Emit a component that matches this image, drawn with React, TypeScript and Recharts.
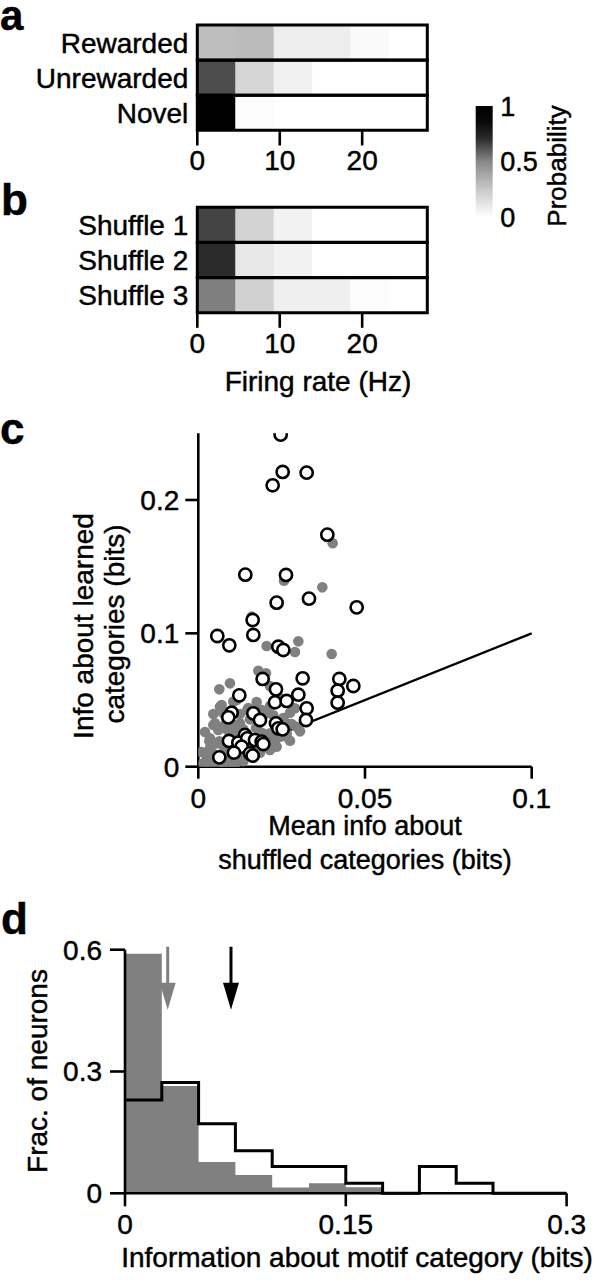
import React from 'react';
import {
  BarChart, Bar, XAxis, YAxis, Cell,
  ScatterChart, Scatter, ReferenceLine, ComposedChart, Area, Line,
} from 'recharts';

const FONT = '"Liberation Sans", Arial, Helvetica, sans-serif';

// ---------- Panels a & b : firing-rate distributions ----------
const rateBinEdges = [0, 4.65, 9.3, 13.95, 18.6, 23.25, 27.9];
const rateTicks = [0, 10, 20];
const learnedCategories = ['Rewarded', 'Unrewarded', 'Novel'];
const learnedProbabilities = [
  [0.29, 0.3, 0.08, 0.08, 0.025, 0],
  [0.63, 0.19, 0.07, 0, 0, 0],
  [1.0, 0.015, 0, 0, 0, 0],
];
const shuffledCategories = ['Shuffle 1', 'Shuffle 2', 'Shuffle 3'];
const shuffledProbabilities = [
  [0.65, 0.2, 0.06, 0, 0, 0],
  [0.71, 0.11, 0.06, 0, 0, 0],
  [0.52, 0.21, 0.075, 0.075, 0.015, 0],
];
const colorbarTicks = [0, 0.5, 1];
const colormapStops = [0, 0.25, 0.5, 0.7, 0.85, 1];
const colormapGrays = [255, 200, 136, 45, 10, 0];

// ---------- Panel c : info learned vs shuffled ----------
const learnedInfoOpen: [number, number][] = [
  [0.0247, 0.249], [0.0253, 0.221], [0.0325, 0.2205], [0.0223, 0.211], [0.0387, 0.174],
  [0.0141, 0.144], [0.0263, 0.1438], [0.0332, 0.126], [0.0235, 0.123], [0.0475, 0.1195],
  [0.0057, 0.098], [0.0093, 0.091], [0.0163, 0.11], [0.0165, 0.0988], [0.024, 0.09],
  [0.0255, 0.0875], [0.0193, 0.0658], [0.0313, 0.0663], [0.0423, 0.0658], [0.0465, 0.0605],
  [0.0233, 0.058], [0.03, 0.054], [0.0418, 0.057], [0.0123, 0.0535], [0.023, 0.0483],
  [0.0265, 0.0493], [0.0418, 0.048], [0.0325, 0.0438], [0.01, 0.0405], [0.009, 0.037],
  [0.0165, 0.04], [0.0185, 0.035], [0.0233, 0.0325], [0.0323, 0.035], [0.024, 0.0288],
  [0.0253, 0.028], [0.014, 0.0238], [0.0092, 0.0193], [0.012, 0.018], [0.0147, 0.0213],
  [0.017, 0.02], [0.019, 0.0188], [0.0195, 0.017], [0.013, 0.015], [0.0107, 0.0105],
  [0.0155, 0.01], [0.0163, 0.0083], [0.0063, 0.007],
];
const shuffledInfoGray: [number, number][] = [
  [0.0403, 0.1675], [0.0257, 0.1395], [0.0372, 0.1345], [0.016, 0.1125], [0.0205, 0.0905],
  [0.03, 0.094], [0.029, 0.086], [0.04, 0.0845], [0.018, 0.072], [0.0203, 0.07],
  [0.0063, 0.058], [0.0115, 0.05], [0.0065, 0.045], [0.0147, 0.0425], [0.019, 0.0425],
  [0.0215, 0.0455], [0.029, 0.0438], [0.0045, 0.0313], [0.006, 0.0275], [0.0085, 0.028],
  [0.011, 0.031], [0.0135, 0.028], [0.0185, 0.026], [0.0215, 0.025], [0.0295, 0.03],
  [0.0265, 0.0225], [0.0033, 0.019], [0.0063, 0.019], [0.0035, 0.014], [0.002, 0.01],
  [0.004, 0.0075], [0.006, 0.0025], [0.008, 0.0015], [0.011, 0.001], [0.013, 0.005],
  [0.009, 0.0075], [0.0015, 0.0025], [0.023, 0.019], [0.0245, 0.0225], [0.002, 0.026],
  [0.001, 0.011], [0.015, 0.012], [0.019, 0.015], [0.007, 0.0463], [0.0105, 0.0488],
  [0.0075, 0.04], [0.005, 0.0325], [0.007, 0.03], [0.0035, 0.0213], [0.0055, 0.0175],
  [0.004, 0.0113], [0.0035, 0.0013], [0.0075, 0.0025], [0.0105, 0.0015], [0.0135, 0.004],
  [0.0085, 0.011], [0.0125, 0.0325], [0.0173, 0.029], [0.0193, 0.025], [0.0178, 0.015],
  [0.021, 0.0175], [0.0243, 0.0225], [0.0265, 0.0325], [0.0265, 0.025], [0.032, 0.035],
  [0.0205, 0.04], [0.015, 0.044], [0.0123, 0.0535], [0.0095, 0.037], [0.028, 0.032],
  [0.0095, 0.0235], [0.0115, 0.0205], [0.0075, 0.0155], [0.0125, 0.0085], [0.0165, 0.0065],
  [0.0185, 0.0105], [0.0215, 0.0125], [0.0235, 0.015], [0.0275, 0.0195], [0.0305, 0.0265],
  [0.0025, 0.0055], [0.0055, 0.0085], [0.0145, 0.0175], [0.0105, 0.0265], [0.0155, 0.0355],
  [0.0225, 0.0385], [0.0255, 0.0365], [0.0125, 0.0395], [0.0085, 0.0345], [0.0045, 0.0395],
  [0.0175, 0.0485], [0.0245, 0.0515], [0.0215, 0.0605], [0.0095, 0.0625], [0.0275, 0.0405],
];
const identityLine = [0, 0.1];
const scatterXTicks = [0, 0.05, 0.1];
const scatterYTicks = [0, 0.1, 0.2];

// ---------- Panel d : histogram of information ----------
const infoBinEdges = [0, 0.025, 0.05, 0.075, 0.1, 0.125, 0.15, 0.175, 0.2, 0.225, 0.25, 0.275, 0.3];
const shuffledFraction = [0.59, 0.264, 0.077, 0.045, 0.014, 0.025, 0.015, 0, 0, 0, 0, 0, 0];
const learnedFraction = [0.23, 0.273, 0.171, 0.105, 0.066, 0.066, 0.025, 0, 0.066, 0.025, 0, 0, 0];
const meanInfo = [
  { x: 0.029, color: '#808080' },
  { x: 0.072, color: '#000000' },
];
const histXTicks = [0, 0.15, 0.3];
const histYTicks = [0, 0.3, 0.6];

// ---------- helpers ----------
function probColor(p: number): string {
  let g = colormapGrays[colormapGrays.length - 1];
  for (let i = 0; i < colormapStops.length - 1; i++) {
    if (p <= colormapStops[i + 1]) {
      const t = (p - colormapStops[i]) / (colormapStops[i + 1] - colormapStops[i]);
      g = colormapGrays[i] + t * (colormapGrays[i + 1] - colormapGrays[i]);
      break;
    }
  }
  const v = Math.round(Math.max(0, Math.min(255, g)));
  return `rgb(${v},${v},${v})`;
}

const AX = { stroke: '#000', strokeWidth: 2.6 };
const TXT_STROKE = 0.45;
const tickText = (size: number) => ({
  fill: '#000', fontSize: size, fontFamily: FONT, stroke: '#000', strokeWidth: TXT_STROKE,
});

const HM_W = 440;
const HM_RIGHT = 12.7;
const HM_LEFT_AXIS = 197.3;
const HM_PLOT_H = 105.5;
const HM_XAXIS_H = 50;

function Heatmap({ rows, probs, marginTop, height }: { rows: string[]; probs: number[][]; marginTop: number; height: number }) {
  const nBins = rateBinEdges.length - 1;
  const xMax = rateBinEdges[rateBinEdges.length - 1];
  const data = rows.map((name) => {
    const o: any = { name, total: xMax };
    for (let i = 0; i < nBins; i++) o['b' + i] = rateBinEdges[i + 1] - rateBinEdges[i];
    return o;
  });
  const margin = { top: marginTop, right: HM_RIGHT, bottom: height - marginTop - HM_PLOT_H - HM_XAXIS_H, left: 0 };
  return (
    <div style={{ position: 'relative', width: HM_W, height }}>
      <div style={{ position: 'absolute', left: 0, top: 0 }}>
        <BarChart width={HM_W} height={height} data={data} layout="vertical" barCategoryGap={0} barGap={0} margin={margin}>
          <XAxis
            type="number"
            domain={[0, xMax]}
            ticks={rateTicks}
            interval={0}
            axisLine={false}
            tickLine={AX}
            tickSize={15}
            tickMargin={5}
            height={HM_XAXIS_H}
            tick={tickText(28)}
            allowDataOverflow
          />
          <YAxis
            type="category"
            dataKey="name"
            interval={0}
            width={HM_LEFT_AXIS}
            axisLine={false}
            tickLine={false}
            tickSize={0}
            tickMargin={9}
            tick={tickText(28)}
          />
          {Array.from({ length: nBins }, (_, i) => (
            <Bar key={i} dataKey={'b' + i} stackId="h" isAnimationActive={false}>
              {rows.map((r, ri) => (
                <Cell key={r} fill={probColor(probs[ri][i])} stroke={probColor(probs[ri][i])} strokeWidth={0.6} />
              ))}
            </Bar>
          ))}
        </BarChart>
      </div>
      <div style={{ position: 'absolute', left: 0, top: 0 }}>
        <BarChart width={HM_W} height={height} data={data} layout="vertical" barCategoryGap={0} barGap={0} margin={margin}>
          <XAxis type="number" domain={[0, xMax]} axisLine={false} tickLine={false} tick={false} height={HM_XAXIS_H} />
          <YAxis type="category" dataKey="name" width={HM_LEFT_AXIS} axisLine={false} tickLine={false} tick={false} />
          <Bar dataKey="total" fill="none" stroke="#000" strokeWidth={3} isAnimationActive={false} />
        </BarChart>
      </div>
    </div>
  );
}

function Colorbar() {
  const stops = Array.from({ length: 21 }, (_, k) => k / 20);
  return (
    <BarChart
      width={110}
      height={160}
      data={[{ name: 'p', range: [colorbarTicks[0], colorbarTicks[colorbarTicks.length - 1]] }]}
      barCategoryGap={0}
      margin={{ top: 26, right: 110 - 15.7 - 16.6 - 50, bottom: 160 - 26 - 111, left: 15.7 }}
    >
      <defs>
        <linearGradient id="cbGrad" x1="0" y1="1" x2="0" y2="0">
          {stops.map((s) => (
            <stop key={s} offset={s} stopColor={probColor(s)} />
          ))}
        </linearGradient>
      </defs>
      <XAxis dataKey="name" hide />
      <YAxis
        orientation="right"
        type="number"
        domain={[0, 1]}
        ticks={colorbarTicks}
        interval={0}
        width={50}
        axisLine={false}
        tickLine={false}
        tickSize={0}
        tickMargin={8}
        tick={tickText(27)}
      />
      <Bar dataKey="range" fill="url(#cbGrad)" isAnimationActive={false} />
    </BarChart>
  );
}

const openShape = (p: any) => (
  <circle cx={p.cx} cy={p.cy} r={6.1} fill="#fff" stroke="#000" strokeWidth={2.6} />
);
const grayShape = (p: any) => <circle cx={p.cx} cy={p.cy} r={5.3} fill="#808080" />;

function ScatterPanel() {
  const openData = learnedInfoOpen.map(([x, y]) => ({ x, y }));
  const grayData = shuffledInfoGray.map(([x, y]) => ({ x, y }));
  return (
    <ScatterChart width={560} height={440} margin={{ top: 33.3, right: 28.3, bottom: 33.3, left: 0 }}>
      <XAxis
        type="number"
        dataKey="x"
        domain={[0, 0.1]}
        ticks={scatterXTicks}
        interval={0}
        axisLine={AX}
        tickLine={AX}
        tickSize={12}
        tickMargin={9}
        height={40}
        tick={tickText(28)}
        allowDataOverflow
      />
      <YAxis
        type="number"
        dataKey="y"
        domain={[0, 0.25]}
        ticks={scatterYTicks}
        interval={0}
        axisLine={AX}
        tickLine={AX}
        tickSize={13}
        tickMargin={6}
        width={198.3}
        tick={tickText(28)}
        allowDataOverflow
      />
      <Scatter data={grayData} shape={grayShape} isAnimationActive={false} />
      <ReferenceLine
        segment={[
          { x: identityLine[0], y: identityLine[0] },
          { x: identityLine[1], y: identityLine[1] },
        ]}
        stroke="#000"
        strokeWidth={2.4}
      />
      <Scatter data={openData} shape={openShape} isAnimationActive={false} />
    </ScatterChart>
  );
}

const arrowShape = (p: any) => {
  const c = p.payload.color;
  const len = 63;
  const headH = 27;
  const headW = 16;
  return (
    <g>
      <line x1={p.cx} y1={p.cy - len} x2={p.cx} y2={p.cy - headH + 2} stroke={c} strokeWidth={3} />
      <polygon
        points={`${p.cx - headW / 2},${p.cy - headH} ${p.cx + headW / 2},${p.cy - headH} ${p.cx},${p.cy}`}
        fill={c}
      />
    </g>
  );
};

function HistPanel() {
  const data = infoBinEdges.map((x, i) => ({ x, shuffled: shuffledFraction[i], learned: learnedFraction[i] }));
  const arrows = meanInfo.map((m) => ({ x: m.x, y: 0.452, color: m.color }));
  return (
    <ComposedChart width={595} height={380} data={data} margin={{ top: 49.7, right: 28.4, bottom: 41.7, left: 0 }}>
      <XAxis
        type="number"
        dataKey="x"
        domain={[0, 0.3]}
        ticks={histXTicks}
        interval={0}
        axisLine={AX}
        tickLine={AX}
        tickSize={13}
        tickMargin={8}
        height={45}
        tick={tickText(28)}
        allowDataOverflow
      />
      <YAxis
        type="number"
        domain={[0, 0.6]}
        ticks={histYTicks}
        interval={0}
        axisLine={AX}
        tickLine={AX}
        tickSize={15}
        tickMargin={8}
        width={125}
        tick={tickText(28)}
      />
      <Area
        type="stepAfter"
        dataKey="shuffled"
        stroke="none"
        fill="#808080"
        fillOpacity={1}
        isAnimationActive={false}
        dot={false}
        activeDot={false}
      />
      <Line
        type="stepAfter"
        dataKey="learned"
        stroke="#000"
        strokeWidth={3}
        dot={false}
        activeDot={false}
        isAnimationActive={false}
      />
      <Scatter data={arrows} dataKey="y" shape={arrowShape} isAnimationActive={false} />
    </ComposedChart>
  );
}

export default function App() {
  const txt = { fontFamily: FONT, fill: '#000', stroke: '#000', strokeWidth: TXT_STROKE } as const;
  const rot = (x: number, y: number) => `rotate(-90 ${x} ${y})`;
  return (
    <div style={{ position: 'absolute', left: 0, top: 0, width: 595, height: 1280, background: '#fff', overflow: 'hidden' }}>
      <div style={{ position: 'absolute', left: 0, top: 0 }}>
        <Heatmap rows={learnedCategories} probs={learnedProbabilities} marginTop={25} height={180} />
      </div>
      <div style={{ position: 'absolute', left: 0, top: 180 }}>
        <Heatmap rows={shuffledCategories} probs={shuffledProbabilities} marginTop={27.3} height={200} />
      </div>
      <div style={{ position: 'absolute', left: 460, top: 80 }}>
        <Colorbar />
      </div>
      <div style={{ position: 'absolute', left: 0, top: 400 }}>
        <ScatterPanel />
      </div>
      <div style={{ position: 'absolute', left: 0, top: 900 }}>
        <HistPanel />
      </div>
      <svg width={595} height={1280} style={{ position: 'absolute', left: 0, top: 0, pointerEvents: 'none' }}>
        <text x={0} y={30} fontSize={42} fontWeight="bold" {...txt}>a</text>
        <text x={1} y={215} fontSize={44} fontWeight="bold" {...txt}>b</text>
        <text x={0} y={444} fontSize={44} fontWeight="bold" {...txt}>c</text>
        <text x={1} y={934} fontSize={44} fontWeight="bold" {...txt}>d</text>
        <text x={318} y={391} fontSize={28} textAnchor="middle" {...txt}>Firing rate (Hz)</text>
        <text x={566} y={166} fontSize={26} textAnchor="middle" transform={rot(566, 166)} {...txt}>Probability</text>
        <text x={93} y={626} fontSize={28} textAnchor="middle" transform={rot(93, 626)} {...txt}>Info about learned</text>
        <text x={124} y={624} fontSize={28} textAnchor="middle" transform={rot(124, 624)} {...txt}>categories (bits)</text>
        <text x={365} y={835} fontSize={27} textAnchor="middle" {...txt}>Mean info about</text>
        <text x={365} y={869} fontSize={27} textAnchor="middle" {...txt}>shuffled categories (bits)</text>
        <text x={47} y={1071} fontSize={28} textAnchor="middle" transform={rot(47, 1071)} {...txt}>Frac. of neurons</text>
        <text x={357} y={1267} fontSize={28} textAnchor="middle" {...txt}>Information about motif category (bits)</text>
      </svg>
    </div>
  );
}
